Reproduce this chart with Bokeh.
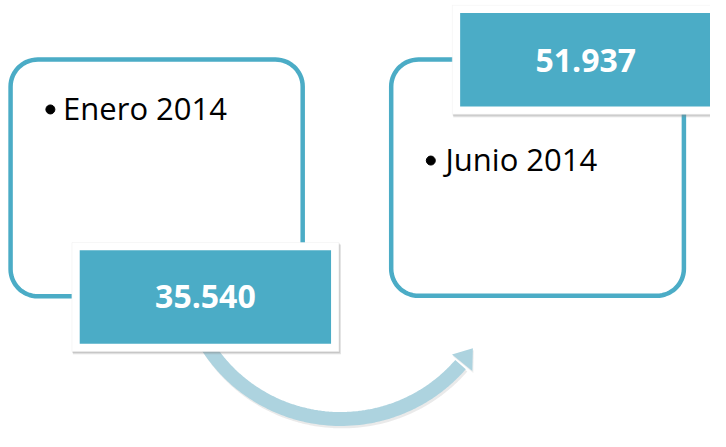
import numpy as np
from bokeh.plotting import figure
from bokeh.models import Range1d
from bokeh.core.properties import value
from bokeh.embed import file_html
from bokeh.resources import INLINE

# ---- data ----
periods = ["Enero 2014", "Junio 2014"]
values = [35540, 51937]


def fmt(v):
    return f"{v:,}".replace(",", ".")


# ---- layout (reference pixel coordinates) ----
W, H = 710, 431
ACCENT = "#4BACC6"
ARROW = "#ADD3DF"
FONT = "Open Sans"

p = figure(width=W, height=H, x_range=Range1d(0, 726), y_range=Range1d(447, 0),
           output_backend="svg", toolbar_location=None, min_border=0,
           x_axis_location=None, y_axis_location=None)
p.grid.visible = False
p.outline_line_color = None
p.background_fill_color = "white"
p.border_fill_color = "white"


def rounded(x0, y0, x1, y1, r, n=16):
    xs, ys = [], []
    corners = [(x1 - r, y0 + r, -90, 0), (x1 - r, y1 - r, 0, 90),
               (x0 + r, y1 - r, 90, 180), (x0 + r, y0 + r, 180, 270)]
    for cx, cy, a0, a1 in corners:
        t = np.radians(np.linspace(a0, a1, n))
        xs.extend(cx + r * np.cos(t))
        ys.extend(cy + r * np.sin(t))
    return xs, ys


outline_boxes = [(10.3, 61.2, 309.0, 306.8), (399.5, 61.2, 698.8, 306.3)]
cards = [(73, 251, 346, 364), (462, 5, 750, 118)]
bullets = [(51, 113), (440, 166)]
label_pos = [(64, 112), (455, 164)]
value_pos = [(209.5, 307), (598.5, 62)]

# arrow (drawn first, under the left card)
cx, cy, R = 348, 273, 161
t = np.radians(np.linspace(150, 40.5, 80))
p.line(cx + 1.5 + R * np.cos(t), cy + 2.5 + R * np.sin(t), line_width=14,
       line_color="#8a8a8a", line_alpha=0.18)
p.line(cx + R * np.cos(t), cy + R * np.sin(t), line_width=14, line_color=ARROW)
tip_a, base_a = np.radians(33), np.radians(39.6)
hx = [cx + R * np.cos(tip_a), cx + (R - 13.5) * np.cos(base_a), cx + (R + 13.5) * np.cos(base_a)]
hy = [cy + R * np.sin(tip_a), cy + (R - 13.5) * np.sin(base_a), cy + (R + 13.5) * np.sin(base_a)]
p.patch([x + 1 for x in hx], [y + 2 for y in hy], fill_color="#8a8a8a", fill_alpha=0.15, line_color=None)
p.patch(hx, hy, fill_color=ARROW, line_color=None)

for i, name in enumerate(periods):
    x0, y0, x1, y1 = outline_boxes[i]
    xs, ys = rounded(x0, y0, x1, y1, 28)
    p.patch(xs, ys, fill_color="white", line_color=ACCENT, line_width=4.5)

    bx, by = bullets[i]
    p.scatter([bx], [by], size=9, color="black")
    lx, ly = label_pos[i]
    p.text([lx], [ly], text=[name], text_font=value(FONT), text_font_size="31px",
           text_color="black", text_align="left", text_baseline="alphabetic")

    c0, c1, c2, c3 = cards[i]
    # soft shadow
    p.quad(left=[c0 + 1], right=[c2 + 2], top=[c1 + 2], bottom=[c3 + 3],
           fill_color="#7f7f7f", fill_alpha=0.25, line_color=None)
    p.quad(left=[c0 + 0.5], right=[c2 + 1], top=[c1 + 1], bottom=[c3 + 1.5],
           fill_color="#7f7f7f", fill_alpha=0.25, line_color=None)
    p.quad(left=[c0], right=[c2], top=[c1], bottom=[c3],
           fill_color="white", line_color="#eeeeee", line_width=0.5)
    p.quad(left=[c0 + 8], right=[c2 - 8], top=[c1 + 8], bottom=[c3 - 8],
           fill_color=ACCENT, line_color=None)
    vx, vy = value_pos[i]
    p.text([vx], [vy], text=[fmt(values[i])], text_font=value(FONT), text_font_size="32px",
           text_font_style="bold", text_color="white", text_align="center",
           text_baseline="alphabetic")

open("out.html", "w").write(file_html(p, INLINE))
